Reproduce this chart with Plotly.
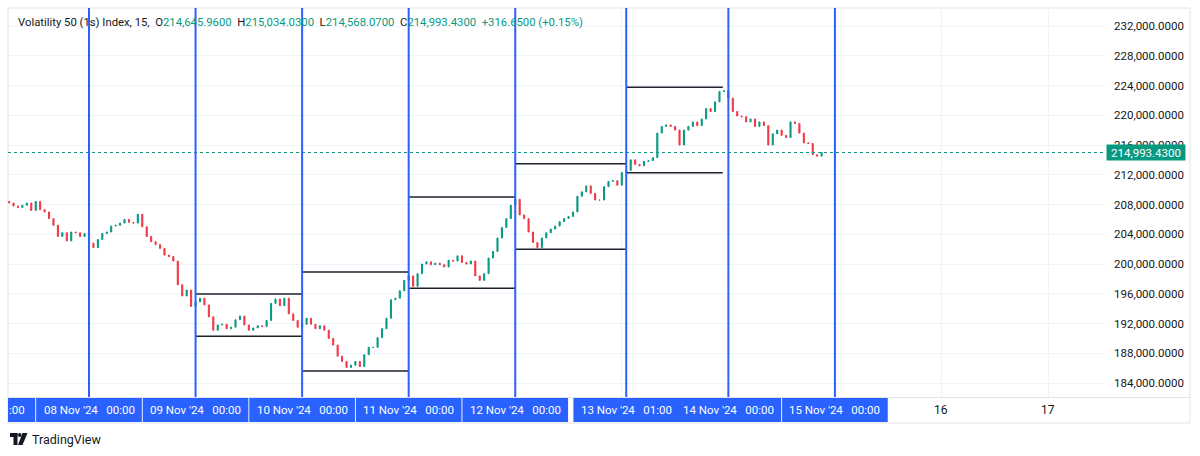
import plotly.graph_objects as go
import pandas as pd

# ---------------- data ----------------
start_time = "2024-11-07 06:00"
first_open = 208400.0
closes = [
    208200, 207800, 207600, 207900, 208200, 207200, 208400, 207300, 207000, 206100,
    205200, 203700, 204200, 203100, 204300, 204200, 203700, 204100,
    202800, 202200, 203300, 204100, 204300, 205100, 205200, 205500, 206000, 205600,
    205500, 206700, 205000, 203700, 203000, 202600, 202100, 201200, 201000, 200400,
    197200, 195700, 196500, 194300,
    194900, 195400, 194500, 192900, 191100, 191800, 191900, 191300, 191500, 192500,
    193000, 191800, 191100, 191400, 191700, 191600, 192400, 194700, 195300, 194400,
    195400, 193300, 192400, 191500,
    191900, 192700, 191900, 191300, 191700, 191100, 190000, 189100, 187600, 186900,
    186100, 186400, 186900, 186200, 187800, 188800, 188800, 190100, 191300, 192700,
    195200, 195400, 196400, 197800,
    198400, 197000, 198700, 200000, 200300, 199900, 200100, 199900, 199600, 200500,
    200400, 201100, 200200, 200000, 200400, 198400, 197800, 198700, 200800, 201700,
    203500, 204900, 206100, 207900,
    208700, 206600, 206100, 204300, 202900, 202200, 203500, 204200, 204700, 205100,
    205700, 206100, 206400, 207000, 209100, 209700, 210500, 209500, 208600, 208600,
    210400, 211100, 211200, 210600,
    212300, 212600, 214000, 213400, 213200, 213800, 213900, 214300, 217600, 218500,
    218700, 218500, 218000, 216000, 218000, 218500, 219100, 218600, 219500, 220900,
    220500, 221800, 223200, 223300,
    222300, 220500, 219900, 219800, 219100, 219500, 218500, 219100, 218600, 216000,
    217500, 218000, 217300, 217000, 219100, 218900, 217600, 216300, 216200, 214700,
    214500, 214993.43,
]

legend_title = "Volatility 50 (1s) Index, 15,"
legend_ohlc = [214645.96, 215034.03, 214568.07, 214993.43]
legend_change = 316.65
legend_change_pct = 0.15
last_price = 214993.43

vline_times = ["2024-11-07 00:00", "2024-11-08 00:00", "2024-11-09 00:00", "2024-11-10 00:00",
               "2024-11-11 00:00", "2024-11-12 00:00", "2024-11-13 01:00", "2024-11-14 00:00",
               "2024-11-15 00:00"]
vline_dates = ["07 Nov '24", "08 Nov '24", "09 Nov '24", "10 Nov '24", "11 Nov '24",
               "12 Nov '24", "13 Nov '24", "14 Nov '24", "15 Nov '24"]
vline_clock = ["00:00", "00:00", "00:00", "00:00", "00:00", "00:00", "01:00", "00:00", "00:00"]

plain_tick_times = ["2024-11-16 00:00", "2024-11-17 00:00"]
plain_tick_labels = ["16", "17"]

level_starts = ["2024-11-09 00:00", "2024-11-10 00:00", "2024-11-11 00:00",
                "2024-11-12 00:00", "2024-11-13 01:00"]
level_ends = ["2024-11-10 00:00", "2024-11-11 00:00", "2024-11-12 00:00",
              "2024-11-13 01:00", "2024-11-13 22:45"]
level_highs = [195950, 198930, 209010, 213490, 223760]
level_lows = [190280, 185620, 196730, 201980, 212280]

y_ticks = list(range(184000, 232001, 4000))

# ---------------- layout constants ----------------
W, H = 1200, 456
L, R, T, B = 8, 1106, 8, 397
UP, DOWN, BLUE, TXT, GRID = "#089981", "#F23645", "#2962FF", "#131722", "#f0f3fa"
FONT = "Roboto"


def px(xp):
    return (xp - L) / (R - L)


def py(yp):
    return (B - yp) / (B - T)


times = pd.date_range(start_time, periods=len(closes), freq="h")
opens = [first_open] + closes[:-1]
highs = [max(o, c) for o, c in zip(opens, closes)]
lows = [min(o, c) for o, c in zip(opens, closes)]

fig = go.Figure()
fig.add_trace(go.Candlestick(
    x=times, open=opens, high=highs, low=lows, close=closes,
    increasing=dict(line=dict(color=UP, width=1), fillcolor=UP),
    decreasing=dict(line=dict(color=DOWN, width=1), fillcolor=DOWN),
    showlegend=False, hoverinfo="skip",
))

shapes = []
annotations = []

# price dotted line
shapes.append(dict(type="line", xref="paper", yref="y", x0=0, x1=1, y0=last_price, y1=last_price,
                   line=dict(color=UP, width=1, dash="dot")))

# day high / low levels
for s, e, hi, lo in zip(level_starts, level_ends, level_highs, level_lows):
    for v in (hi, lo):
        shapes.append(dict(type="line", xref="x", yref="y", x0=s, x1=e, y0=v, y1=v,
                           line=dict(color="#1e222d", width=1.5)))

# vertical blue lines and time-axis labels
half = pd.Timedelta(hours=11.9)
for t, d, c in zip(vline_times, vline_dates, vline_clock):
    tt = pd.Timestamp(t)
    shapes.append(dict(type="line", xref="x", yref="paper", x0=tt, x1=tt, y0=0, y1=1,
                       line=dict(color=BLUE, width=2)))
    shapes.append(dict(type="rect", xref="x", yref="paper", x0=tt - half, x1=tt + half,
                       y0=py(422), y1=py(397.5), fillcolor=BLUE, line=dict(width=0), layer="above"))
    if tt >= pd.Timestamp("2024-11-07 06:00"):
        annotations.append(dict(xref="x", yref="paper", x=tt, y=py(410), showarrow=False,
                                text=d + "\u00a0\u00a0\u00a0" + c, xanchor="center", yanchor="middle",
                                font=dict(family=FONT, size=11.5, color="white")))
annotations.append(dict(xref="paper", yref="paper", x=px(27), y=py(410), showarrow=False,
                        text=":00", xanchor="right", yanchor="middle",
                        font=dict(family=FONT, size=11.5, color="white")))
for t, lab in zip(plain_tick_times, plain_tick_labels):
    annotations.append(dict(xref="x", yref="paper", x=t, y=py(410), showarrow=False, text=lab,
                            xanchor="center", yanchor="middle",
                            font=dict(family=FONT, size=12, color=TXT)))

# frame lines
shapes.append(dict(type="rect", xref="paper", yref="paper", x0=px(8), x1=px(1190), y0=py(423), y1=py(8),
                   line=dict(color="#e0e3eb", width=1), layer="below"))
shapes.append(dict(type="line", xref="paper", yref="paper", x0=px(8), x1=px(1190), y0=py(397.5), y1=py(397.5),
                   line=dict(color="#e0e3eb", width=1)))

# legend line
def fmt(v):
    return f"{v:,.4f}"

g = f"<span style='color:{UP}'>"
sp = "\u00a0\u00a0"
legend_text = (legend_title + sp + "O" + g + fmt(legend_ohlc[0]) + "</span>" + sp +
               "H" + g + fmt(legend_ohlc[1]) + "</span>" + sp +
               "L" + g + fmt(legend_ohlc[2]) + "</span>" + sp +
               "C" + g + fmt(legend_ohlc[3]) + "</span>" + sp +
               g + f"+{legend_change:,.4f} (+{legend_change_pct:.2f}%)" + "</span>")
annotations.append(dict(xref="paper", yref="paper", x=px(16), y=py(22), showarrow=False,
                        text=legend_text, xanchor="left", yanchor="middle",
                        font=dict(family=FONT, size=11.3, color=TXT)))

# last price tag
annotations.append(dict(xref="paper", yref="y", x=px(1106), y=last_price, showarrow=False,
                        text=fmt(last_price), xanchor="left", yanchor="middle",
                        bgcolor=UP, width=76, height=13, borderpad=1,
                        font=dict(family=FONT, size=11.5, color="white")))

# TradingView logo
shapes.append(dict(type="rect", xref="paper", yref="paper", x0=px(10), x1=px(17.5), y0=py(437), y1=py(433),
                   fillcolor=TXT, line=dict(width=0)))
shapes.append(dict(type="rect", xref="paper", yref="paper", x0=px(13.5), x1=px(17.5), y0=py(445), y1=py(433),
                   fillcolor=TXT, line=dict(width=0)))
shapes.append(dict(type="circle", xref="paper", yref="paper", x0=px(18), x1=px(21.5), y0=py(437), y1=py(433),
                   fillcolor=TXT, line=dict(width=0)))
shapes.append(dict(type="path", xref="paper", yref="paper",
                   path=f"M {px(22.5)},{py(433)} L {px(27.5)},{py(433)} L {px(22.5)},{py(445)} L {px(18)},{py(445)} Z",
                   fillcolor=TXT, line=dict(width=0)))
annotations.append(dict(xref="paper", yref="paper", x=px(30), y=py(439.5), showarrow=False,
                        text="TradingView", xanchor="left", yanchor="middle",
                        font=dict(family=FONT, size=12.5, color=TXT)))

x_left = pd.Timestamp("2024-11-08 00:00") - pd.Timedelta(hours=(89 - L) / 4.44)
x_right = pd.Timestamp("2024-11-08 00:00") + pd.Timedelta(hours=(R - 89) / 4.44)
y_top = 232000 + (26 - T) / 7.4375 * 1000
y_bot = y_top - (B - T) / 7.4375 * 1000

fig.update_layout(
    width=W, height=H,
    margin=dict(l=L, r=W - R, t=T, b=H - B),
    paper_bgcolor="white", plot_bgcolor="white",
    showlegend=False, boxgap=0.65,
    shapes=shapes, annotations=annotations,
    font=dict(family=FONT, color=TXT),
    xaxis=dict(type="date", range=[x_left, x_right], showticklabels=False, showgrid=True,
               gridcolor=GRID, gridwidth=1, tick0="2024-11-07", dtick=86400000,
               zeroline=False, showline=False, ticks="", rangeslider=dict(visible=False), fixedrange=True),
    yaxis=dict(side="right", range=[y_bot, y_top], tickvals=y_ticks,
               ticktext=[fmt(v) for v in y_ticks], showgrid=True, gridcolor=GRID, gridwidth=1,
               zeroline=False, showline=False, ticks="", ticklabelstandoff=7,
               tickfont=dict(family=FONT, size=11.5, color=TXT), fixedrange=True),
)

fig.write_html("out.html")
